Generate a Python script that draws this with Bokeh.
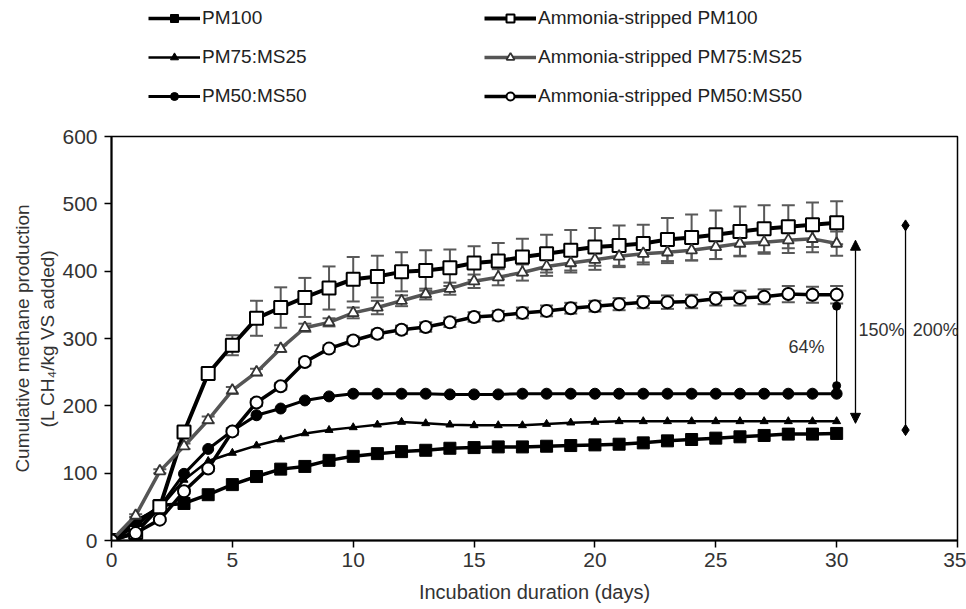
from bokeh.plotting import figure
from bokeh.layouts import column
from bokeh.models import (ColumnDataSource, Whisker, TeeHead, Legend, LegendItem,
                          Arrow, NormalHead, Label, Range1d, FixedTicker)
from bokeh.embed import file_html
from bokeh.resources import INLINE

days = list(range(31))

pm100 = [0, 22, 52, 55, 68, 83, 95, 106, 110, 119, 125, 129, 132, 134, 137, 138,
         139, 139, 140, 141, 142, 143, 145, 148, 150, 152, 154, 156, 158, 158, 159]
pm75 = [0, 30, 48, 90, 118, 130, 141, 150, 159, 164, 168, 172, 176, 174, 172, 171,
        171, 171, 173, 175, 176, 177, 177, 177, 177, 177, 177, 177, 177, 177, 177]
pm50 = [0, 28, 50, 99, 136, 163, 186, 196, 208, 214, 218, 218, 218, 218, 217, 217,
        217, 218, 218, 218, 218, 218, 218, 218, 218, 218, 218, 218, 218, 218, 218]
as_pm100 = [0, 12, 50, 161, 248, 290, 330, 346, 361, 375, 388, 392, 399, 401, 405, 412,
            415, 421, 426, 431, 436, 438, 441, 447, 450, 454, 459, 463, 466, 469, 472]
as_pm75 = [0, 37, 103, 140, 179, 223, 250, 285, 316, 324, 338, 346, 356, 366, 374, 385,
           391, 398, 407, 412, 417, 422, 426, 428, 431, 436, 441, 443, 446, 448, 441]
as_pm50 = [0, 11, 31, 73, 107, 162, 205, 229, 265, 285, 297, 307, 313, 317, 324, 332,
           334, 338, 341, 345, 348, 351, 354, 354, 355, 359, 360, 362, 366, 365, 365]

err_as_pm100 = [0, 2, 3, 5, 6, 15, 26, 30, 29, 32, 33, 31, 29, 30, 27, 25,
                27, 27, 28, 30, 28, 30, 28, 32, 34, 36, 37, 35, 32, 33, 32]
err_as_pm75 = [0, 2, 3, 4, 5, 5, 5, 5, 6, 6, 8, 10, 8, 8, 9, 10,
               12, 12, 14, 14, 15, 16, 16, 16, 15, 18, 18, 17, 19, 20, 18]
err_as_pm50 = [0, 1, 2, 3, 4, 5, 5, 5, 5, 5, 6, 6, 6, 7, 7, 7,
               7, 8, 8, 8, 8, 9, 9, 10, 10, 10, 11, 11, 12, 12, 13]

labels = ["PM100", "PM75:MS25", "PM50:MS50",
          "Ammonia-stripped PM100", "Ammonia-stripped PM75:MS25", "Ammonia-stripped PM50:MS50"]

x_ticks = [0, 5, 10, 15, 20, 25, 30, 35]
y_ticks = [0, 100, 200, 300, 400, 500, 600]

# increase annotations
inc64_x = [30, 30]
inc64_y = [230, 348]
inc150_x = 30.78
inc150_y = [174, 446]
inc200_x = [32.85, 32.85]
inc200_y = [164, 468]
inc_text = ["64%", "150%", "200%"]
inc_text_pos = [(29.5, 287), (30.9, 312), (33.15, 312)]

FONT = "Liberation Sans"
TXT = "#333333"
GREY = "#595959"

# (line colour, line width, marker, size, fill, marker line colour, marker line width)
styles = [
    ("black", 3.5, "square", 12, "black", "black", 1),
    ("black", 2.5, "triangle", 8, "black", "black", 1),
    ("black", 3, "circle", 11, "black", "black", 1),
    ("black", 4, "square", 13, "white", "black", 2),
    ("#555555", 3.5, "triangle", 11, "white", "#333333", 1.8),
    ("black", 3.5, "circle", 12, "white", "black", 2),
]
series = [pm100, pm75, pm50, as_pm100, as_pm75, as_pm50]

# ---------------- main plot ----------------
p = figure(width=966, height=489, x_range=Range1d(0, 35), y_range=Range1d(0, 600),
           output_backend="svg", toolbar_location=None,
           min_border_left=111, min_border_right=9, min_border_top=16, min_border_bottom=69)
p.background_fill_color = "white"
p.border_fill_color = "white"
p.outline_line_color = "black"
p.outline_line_width = 1.5
p.xgrid.visible = False
p.ygrid.visible = False

for ax in (p.xaxis[0], p.yaxis[0]):
    ax.axis_line_color = "black"
    ax.axis_line_width = 2
    ax.major_tick_line_color = "black"
    ax.major_tick_line_width = 1.5
    ax.major_tick_out = 7
    ax.major_tick_in = 0
    ax.minor_tick_line_color = None
    ax.major_label_text_font = FONT
    ax.major_label_text_font_size = "21px"
    ax.major_label_text_color = TXT
    ax.axis_label_text_font = FONT
    ax.axis_label_text_font_style = "normal"
    ax.axis_label_text_color = TXT

p.xaxis.axis_label_text_font_size = "20px"
p.yaxis.axis_label_text_font_size = "19px"
p.xaxis.ticker = FixedTicker(ticks=x_ticks)
p.yaxis.ticker = FixedTicker(ticks=y_ticks)
p.xaxis.major_label_standoff = 5
p.yaxis.major_label_standoff = 7
p.xaxis.axis_label = "Incubation duration (days)"
p.yaxis.axis_label = "Cumulative methane production\n(L CH\u2084/kg VS added)"
p.xaxis.axis_label_standoff = 11
p.yaxis.axis_label_standoff = 1


def add_err(vals, errs):
    src = ColumnDataSource(dict(x=days, upper=[v + e for v, e in zip(vals, errs)],
                                lower=[v - e for v, e in zip(vals, errs)]))
    w = Whisker(source=src, base="x", upper="upper", lower="lower",
                line_color=GREY, line_width=2,
                upper_head=TeeHead(size=13, line_color=GREY, line_width=2),
                lower_head=TeeHead(size=13, line_color=GREY, line_width=2))
    w.level = "underlay"
    p.add_layout(w)


add_err(as_pm100, err_as_pm100)
add_err(as_pm75, err_as_pm75)
add_err(as_pm50, err_as_pm50)

for vals, (lc, lw, mk, ms, fc, mlc, mlw) in zip(series, styles):
    p.line(days, vals, line_color=lc, line_width=lw)
    p.scatter(days, vals, marker=mk, size=ms, fill_color=fc, line_color=mlc, line_width=mlw)

# 64% bracket
p.line(inc64_x, inc64_y, line_color="black", line_width=1.3)
p.scatter(inc64_x, inc64_y, marker="circle", size=8, fill_color="black", line_color="black")
# 150% double arrow
p.add_layout(Arrow(x_start=inc150_x, y_start=inc150_y[0], x_end=inc150_x, y_end=inc150_y[1],
                   line_color="black", line_width=1.3,
                   start=NormalHead(size=10, fill_color="black", line_color="black"),
                   end=NormalHead(size=10, fill_color="black", line_color="black")))
# 200% line
p.line(inc200_x, inc200_y, line_color="black", line_width=1.3)
p.scatter(inc200_x, inc200_y, marker="diamond", size=11, fill_color="black", line_color="black")

aligns = ["right", "left", "left"]
for t, (tx, ty), al in zip(inc_text, inc_text_pos, aligns):
    p.add_layout(Label(x=tx, y=ty, text=t, text_align=al, text_baseline="middle",
                       text_font=FONT, text_font_size="18px", text_color=TXT))

# ---------------- legend strip (same series, view placed off their data) ----------------
lg = figure(width=966, height=120, x_range=Range1d(-20, -19), y_range=Range1d(-20, -19),
            output_backend="svg", toolbar_location=None,
            x_axis_location=None, y_axis_location=None, min_border=0)
lg.outline_line_color = None
lg.xgrid.visible = False
lg.ygrid.visible = False

items = []
for lab, vals, (lc, lw, mk, ms, fc, mlc, mlw) in zip(labels, series, styles):
    r1 = lg.line(days, vals, line_color=lc, line_width=lw)
    r2 = lg.scatter(days, vals, marker=mk, size=ms, fill_color=fc, line_color=mlc, line_width=mlw)
    items.append(LegendItem(label=lab, renderers=[r1, r2]))

legend = Legend(items=items, ncols=2, location=(37, 13), glyph_width=52, glyph_height=20,
                label_standoff=2, label_width=265, spacing=17, padding=0, margin=0,
                border_line_color=None, background_fill_alpha=0,
                label_text_font=FONT, label_text_font_size="19px", label_text_color="#222222")
lg.add_layout(legend)

layout = column(lg, p, spacing=0)
open("out.html", "w").write(file_html(layout, INLINE))
